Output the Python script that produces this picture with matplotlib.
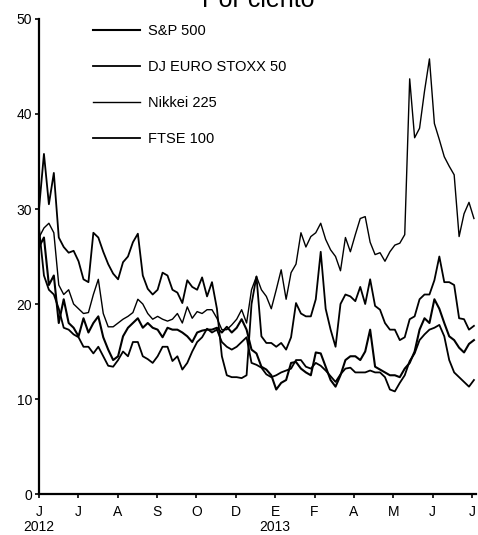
import numpy as np
import matplotlib.pyplot as plt
import matplotlib as mpl

mpl.rcParams['font.family'] = ['Liberation Sans', 'DejaVu Sans']

# implied volatility, per cent, sampled every ~1/8 month from June 2012
sp500 = [26, 27, 22, 23, 18, 20.5, 18, 17.5, 16.6, 18.5, 17,
         18, 18.7, 16.5, 15.2, 14.1, 14.5, 16.6, 17.5, 18, 18.5,
         17.5, 18, 17.5, 17.3, 16.5, 17.5, 17.3, 17.3, 17, 16.6,
         16, 17, 17.2, 17.3, 17.3, 17.5, 17, 17.6, 17, 17.5,
         18.4, 17.3, 15.2, 14.8, 13.4, 13.1, 12.5, 11, 11.7, 12,
         13.8, 13.9, 13.2, 12.8, 12.5, 14.9, 14.8, 13.4, 12, 11.3,
         12.5, 14.1, 14.5, 14.5, 14.1, 15, 17.3, 13.4, 13.1, 12.8,
         12.5, 12.5, 12.3, 13.2, 13.8, 15, 17.3, 18.5, 18, 20.5,
         19.5, 18, 16.6, 16.2, 15.4, 14.9, 15.8, 16.2]
eurostoxx = [30, 35.8, 30.5, 33.8, 27, 26, 25.4, 25.6, 24.5, 22.6, 22.3,
             27.5, 27, 25.5, 24.2, 23.2, 22.6, 24.4, 25, 26.5, 27.4,
             23, 21.6, 21, 21.5, 23.3, 23, 21.5, 21.2, 20.1, 22.5,
             21.8, 21.5, 22.8, 20.8, 22.3, 19.5, 14.5, 12.5, 12.3, 12.3,
             12.2, 12.5, 20, 22.9, 16.6, 15.9, 15.9, 15.5, 15.9, 15.2,
             16.5, 20.1, 19, 18.7, 18.7, 20.5, 25.5, 19.5, 17.3, 15.5,
             20, 21, 20.8, 20.3, 21.8, 20, 22.6, 19.8, 19.4, 18,
             17.3, 17.3, 16.2, 16.5, 18.4, 18.7, 20.5, 21, 21, 22.5,
             25, 22.3, 22.3, 22, 18.5, 18.4, 17.3, 17.7]
nikkei = [27, 28, 28.5, 27.5, 22, 21, 21.5, 20, 19.5, 19, 19.1,
          21, 22.6, 19, 17.6, 17.6, 18, 18.4, 18.7, 19.1, 20.5,
          20, 19, 18.4, 18.7, 18.4, 18.2, 18.4, 19, 18, 19.7,
          18.5, 19.2, 19, 19.4, 19.4, 18.5, 17.3, 17.3, 17.8, 18.4,
          19.4, 18, 21.5, 22.9, 21.5, 20.8, 19.5, 21.5, 23.6, 20.5,
          23.3, 24.2, 27.5, 26, 27.1, 27.5, 28.5, 26.8, 25.7, 25,
          23.5, 27, 25.5, 27.3, 29, 29.2, 26.5, 25.2, 25.4, 24.5,
          25.5, 26.2, 26.4, 27.3, 43.7, 37.5, 38.5, 42.4, 45.8, 39,
          37.3, 35.5, 34.5, 33.6, 27.1, 29.5, 30.7, 29]
ftse = [28, 23, 21.5, 21, 19.5, 17.5, 17.3, 16.8, 16.5, 15.5, 15.5,
        14.8, 15.5, 14.5, 13.5, 13.4, 14.1, 15, 14.5, 16, 16,
        14.5, 14.2, 13.8, 14.5, 15.5, 15.5, 14, 14.5, 13.1, 13.8,
        15, 16, 16.5, 17.4, 17, 17.3, 16, 15.5, 15.2, 15.5,
        16, 16.5, 13.8, 13.6, 13.3, 12.6, 12.3, 12.5, 12.8, 13,
        13.2, 14.1, 14.1, 13.4, 13.2, 13.8, 13.5, 13, 12.4, 11.8,
        12.6, 13.2, 13.3, 12.8, 12.8, 12.8, 13, 12.8, 12.8, 12.3,
        11, 10.8, 11.7, 12.5, 14, 14.8, 16.2, 16.8, 17.3, 17.5,
        17.8, 16.6, 14.1, 12.8, 12.3, 11.8, 11.3, 12]

month_labels = ['J\n2012', 'J', 'A', 'S', 'O', 'D', 'E\n2013', 'F', 'A', 'M', 'J', 'J']
t = np.linspace(0, 11.05, len(sp500))

fig = plt.figure(figsize=(4.78, 5.35), dpi=100)
ax = fig.add_axes([0.0816, 0.0766, 0.914, 0.8879])

ax.plot(t, sp500, color='black', lw=1.5, label='S&P 500')
ax.plot(t, eurostoxx, color='black', lw=1.3, label='DJ EURO STOXX 50')
ax.plot(t, nikkei, color='black', lw=1.0, label='Nikkei 225')
ax.plot(t, ftse, color='black', lw=1.3, label='FTSE 100')

ax.set_xlim(0, 11.1)
ax.set_ylim(0, 50)
ax.set_yticks(range(0, 51, 10))
ax.set_xticks(range(12))
ax.set_xticklabels(month_labels, va='top', linespacing=1.1)
ax.tick_params(axis='both', direction='out', length=3, width=1.2, labelsize=10)
ax.tick_params(axis='y', pad=2)
ax.tick_params(axis='x', pad=5)

for side in ['top', 'right']:
    ax.spines[side].set_visible(False)
for side in ['left', 'bottom']:
    ax.spines[side].set_linewidth(1.6)

ax.legend(loc='upper left', bbox_to_anchor=(93 / 478, 1 - 24 / 535),
          bbox_transform=fig.transFigure, frameon=False, fontsize=10.5,
          handlelength=3.2, handletextpad=0.55, labelspacing=1.5,
          borderpad=0, borderaxespad=0)

fig.text(0.54, 0.987, 'Por ciento', ha='center', va='baseline', fontsize=18)

fig.savefig('out.png', dpi=100)
